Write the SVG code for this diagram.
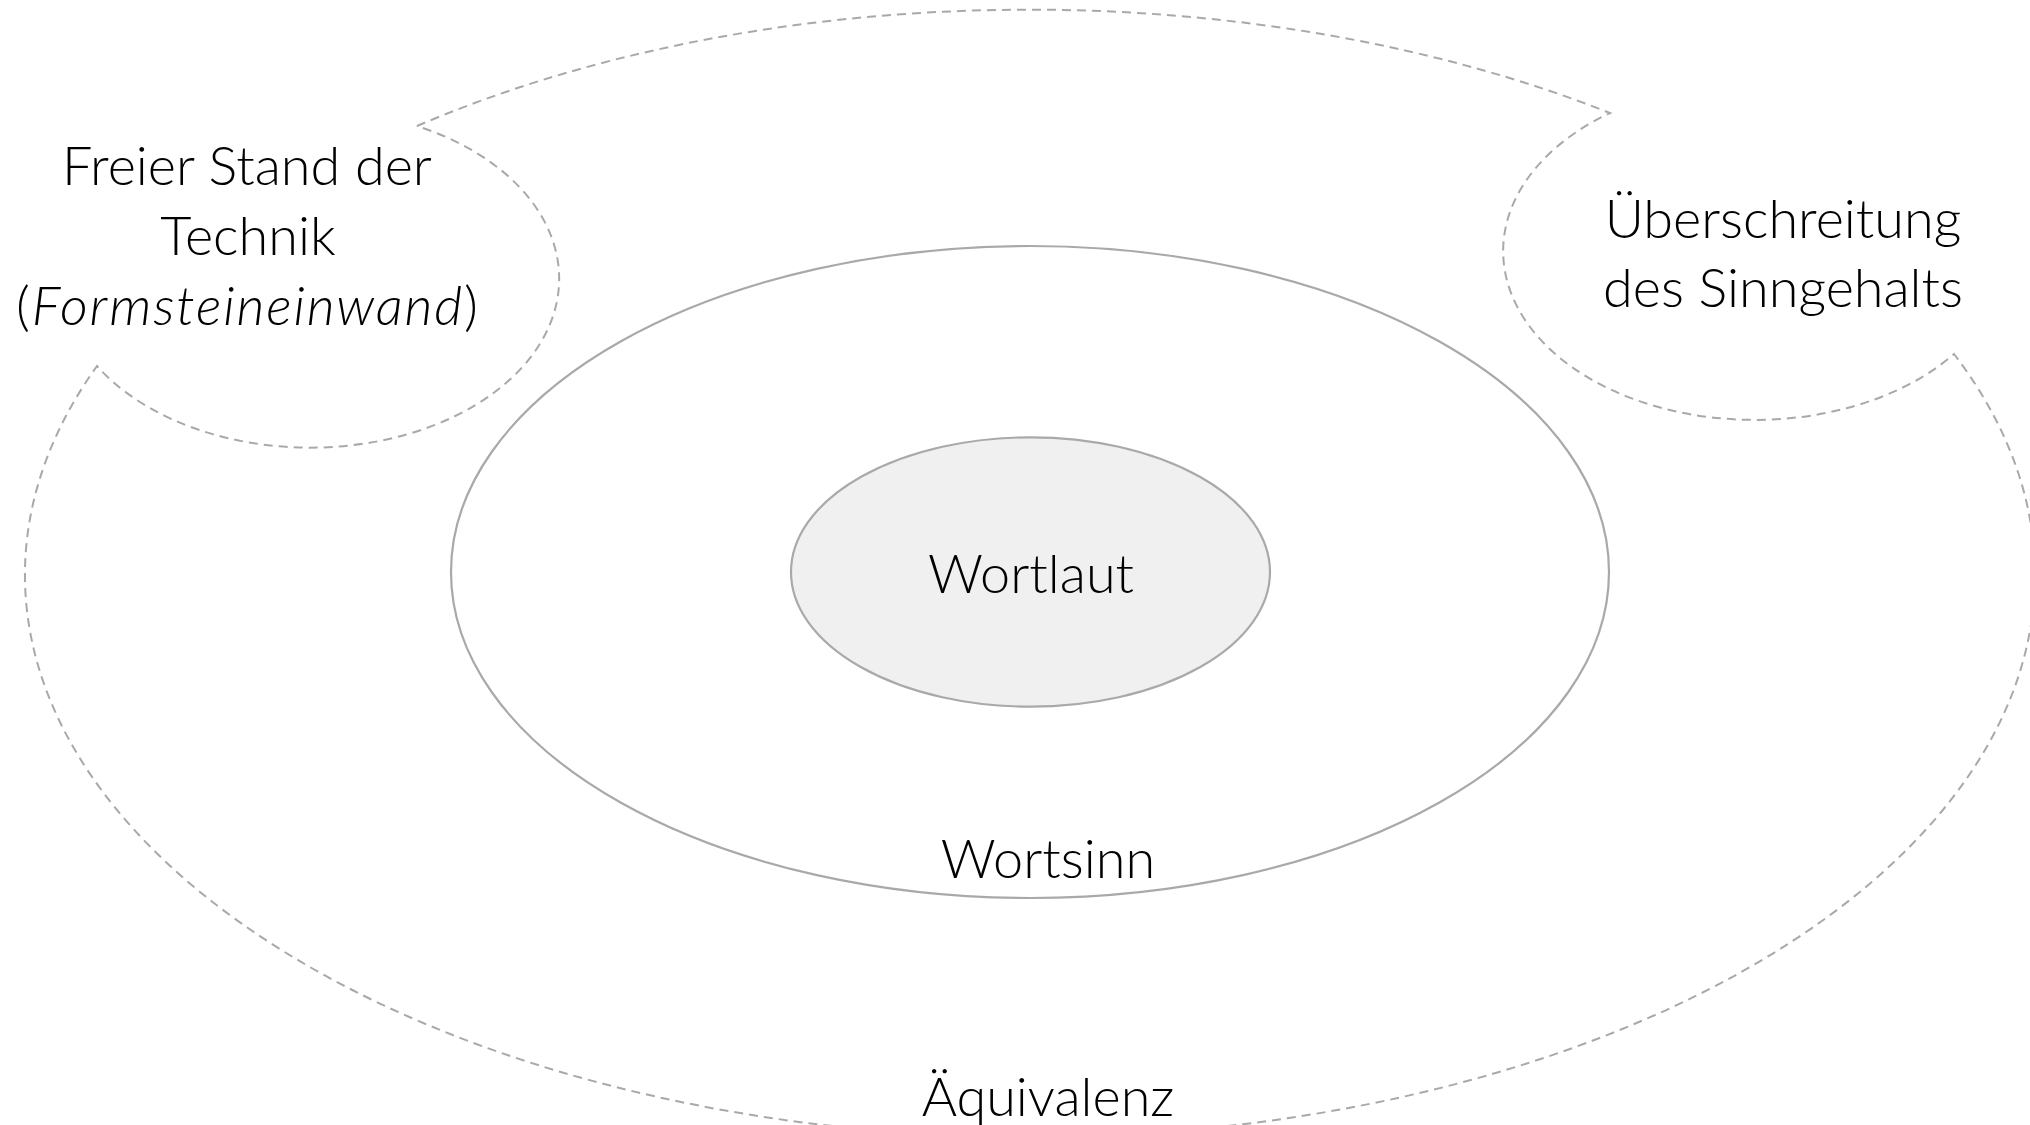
<svg xmlns="http://www.w3.org/2000/svg" width="2030" height="1125" viewBox="0 0 2030 1125">
<style>
.dash{fill:none;stroke:#a9a9a9;stroke-width:2;stroke-dasharray:9 6}
.solid{stroke:#a9a9a9;stroke-width:2.2}
.t{font-family:Lato,"Open Sans","Liberation Sans",sans-serif;font-weight:300;font-size:54px;fill:#000;text-anchor:middle}
</style>
<rect width="2030" height="1125" fill="#fff"/>
<g id="aequivalenz">
<path class="dash" d="M 417 126 A 1005 562 0 0 1 1610 113 A 251.5 168.8 0 1 0 1954 354 A 1005 562 0 1 1 97 366 A 249 169 0 1 0 417 126"/>
<text class="t" x="1048" y="1116">Äquivalenz</text>
</g>
<g id="freier-stand">
<text class="t" x="247" y="185">Freier Stand der</text>
<text class="t" x="248" y="255">Technik</text>
<text class="t" x="247" y="325" textLength="462" lengthAdjust="spacing">(<tspan font-style="italic">Formsteineinwand</tspan>)</text>
</g>
<g id="ueberschreitung">
<text class="t" x="1783" y="238">Überschreitung</text>
<text class="t" x="1783" y="307">des Sinngehalts</text>
</g>
<g id="wortsinn">
<ellipse class="solid" cx="1030" cy="572" rx="579" ry="326" fill="#fff"/>
<text class="t" x="1048" y="878">Wortsinn</text>
</g>
<g id="wortlaut">
<ellipse class="solid" cx="1030.5" cy="572" rx="239.5" ry="134.7" fill="#f0f0f0"/>
<text class="t" x="1031" y="593">Wortlaut</text>
</g>
<g id="connectors"></g>
</svg>
